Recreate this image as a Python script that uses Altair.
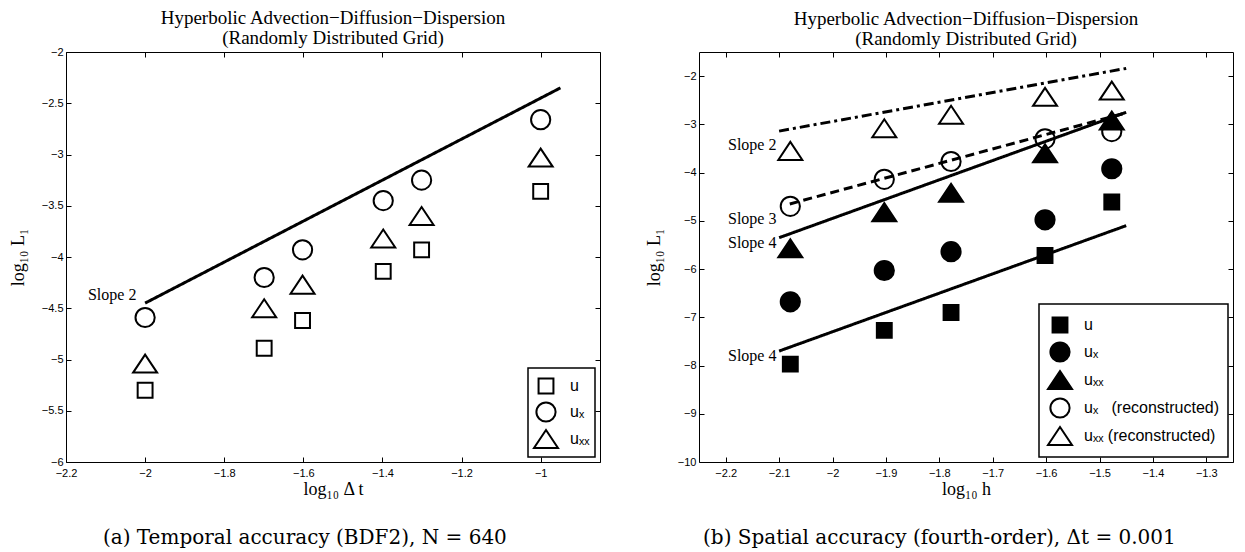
import altair as alt
import pandas as pd

SERIF = "Liberation Serif"
SANS = "Liberation Sans"
CAPFONT = "DejaVu Serif"

# ---------------- Panel (a): temporal accuracy ----------------
a_x = [-2.0, -1.699, -1.602, -1.398, -1.301, -1.0]
a_u = [-5.30, -4.89, -4.62, -4.14, -3.93, -3.36]
a_ux = [-4.59, -4.20, -3.93, -3.45, -3.25, -2.66]
a_uxx = [-5.04, -4.50, -4.27, -3.82, -3.60, -3.03]
a_names = ["u", "uₓ", "uₓₓ"]

a_slope_x = [-2.0, -0.95]
a_slope_y = [-4.45, -2.35]
a_text = ["Slope 2"]
a_text_x = [-2.022]
a_text_y = [-4.37]

a_xticks = [-2.2, -2.0, -1.8, -1.6, -1.4, -1.2, -1.0]
a_yticks = [-6, -5.5, -5, -4.5, -4, -3.5, -3, -2.5, -2]
a_xdomain = [-2.2, -0.85]
a_ydomain = [-6, -2]

# ---------------- Panel (b): spatial accuracy ----------------
b_x = [-2.079, -1.903, -1.778, -1.602, -1.477]
b_u = [-7.97, -7.27, -6.90, -5.72, -4.61]
b_ux = [-6.68, -6.03, -5.64, -4.98, -3.92]
b_uxx = [-5.57, -4.82, -4.42, -3.60, -2.92]
b_ux_rec = [-4.70, -4.14, -3.77, -3.30, -3.15]
b_uxx_rec = [-3.55, -3.08, -2.80, -2.43, -2.30]
b_names = ["u", "uₓ", "uₓₓ", "uₓ\u00a0\u00a0 (reconstructed)", "uₓₓ (reconstructed)"]

b_line_names = ["slope2", "slope3", "slope4a", "slope4b"]
b_line_style = ["dashdot", "dash", "solid", "solid"]
b_line_x0 = [-2.10, -2.08, -2.10, -2.10]
b_line_x1 = [-1.45, -1.45, -1.45, -1.45]
b_line_y0 = [-3.14, -4.65, -5.35, -7.70]
b_line_y1 = [-1.84, -2.76, -2.75, -5.10]
b_text = ["Slope 2", "Slope 3", "Slope 4", "Slope 4"]
b_text_x = [-2.105, -2.105, -2.105, -2.105]
b_text_y = [-3.42, -4.97, -5.45, -7.81]

b_xticks = [-2.2, -2.1, -2.0, -1.9, -1.8, -1.7, -1.6, -1.5, -1.4, -1.3]
b_yticks = [-10, -9, -8, -7, -6, -5, -4, -3, -2]
b_xdomain = [-2.25, -1.25]
b_ydomain = [-10, -1.5]

header = ["Hyperbolic Advection\u2212Diffusion\u2212Dispersion", "(Randomly Distributed Grid)"]
cap_a = "(a) Temporal accuracy (BDF2), N = 640"
cap_b = "(b) Spatial accuracy (fourth-order), \u0394t = 0.001"

# marker shapes (custom paths in [-1,1] box)
SQ = "M-0.62,-0.62L0.62,-0.62L0.62,0.62L-0.62,0.62Z"
CI = "M0.8,0A0.8,0.8,0,1,1,-0.8,0A0.8,0.8,0,1,1,0.8,0Z"
TR = "M0,-0.75L1,0.75L-1,0.75Z"
MSIZE = 576


def axis_kw(**kw):
    base = dict(domain=False, ticks=True, tickSize=5, tickWidth=1, tickColor="black",
                offset=-5, grid=False, labelFont=SANS, labelFontSize=11, labelColor="black",
                labelOverlap=False, labelFlush=False, titleFont=SERIF, titleFontSize=18,
                titleFontWeight="normal", titleColor="black")
    base.update(kw)
    return alt.Axis(**base)


def panel(pdf, ldf, tdf, xdom, ydom, xticks, yticks, yfmt, xtitle, names, shapes, fills,
          rowpad, legpad, width, height, caption, title_offset):
    xs = alt.Scale(domain=xdom, nice=False, zero=False)
    ys = alt.Scale(domain=ydom, nice=False, zero=False)
    lines = alt.Chart(ldf).mark_line(color="black", strokeWidth=3, strokeCap="butt").encode(
        x=alt.X("x:Q", scale=xs, axis=axis_kw(orient="top", values=xticks, labels=False, title=None)),
        y=alt.Y("y:Q", scale=ys, axis=axis_kw(orient="right", values=yticks, labels=False, title=None)),
        detail="line:N",
        strokeDash=alt.StrokeDash("style:N", scale=alt.Scale(domain=["solid", "dash", "dashdot"],
                                                             range=[[1, 0], [9, 5], [10, 4, 3, 4]]),
                                  legend=None),
    )
    leg = alt.Legend(title=None, orient="bottom-right", offset=5, padding=legpad, rowPadding=rowpad,
                     symbolSize=MSIZE, symbolStrokeWidth=2,
                     symbolOpacity=1, labelFont=SANS, labelFontSize=16, labelColor="black",
                     labelOffset=11, strokeColor="black", fillColor="white", labelLimit=300)
    pts = alt.Chart(pdf).mark_point(filled=False, size=MSIZE, strokeWidth=2, opacity=1).encode(
        x=alt.X("x:Q", scale=xs, axis=axis_kw(orient="bottom", values=xticks, format=".1~f",
                                               labelPadding=5, title=xtitle, titlePadding=2)),
        y=alt.Y("y:Q", scale=ys, axis=axis_kw(orient="left", values=yticks, format=yfmt,
                                               labelPadding=3, title="log\u2081\u2080 L\u2081",
                                               titlePadding=14)),
        shape=alt.Shape("series:N", scale=alt.Scale(domain=names, range=shapes), legend=leg),
        fill=alt.Fill("series:N", scale=alt.Scale(domain=names, range=fills), legend=leg),
        stroke=alt.Stroke("series:N", scale=alt.Scale(domain=names, range=["black"] * len(names)),
                          legend=leg),
    )
    txt = alt.Chart(tdf).mark_text(align="right", baseline="middle", font=SERIF, fontSize=16,
                                   color="black").encode(
        x=alt.X("x:Q", scale=xs, axis=None),
        y=alt.Y("y:Q", scale=ys, axis=None),
        text="label:N",
    )
    layer = alt.layer(lines, pts, txt).resolve_axis(x="independent", y="independent").properties(
        width=width, height=height,
        title=alt.TitleParams(header, font=SERIF, fontSize=19, lineHeight=20, fontWeight="normal",
                              color="black", anchor="middle", frame="group", offset=title_offset),
    )
    return alt.vconcat(layer, title=alt.TitleParams(caption, orient="bottom", font=CAPFONT, fontSize=20,
                                                    fontWeight="normal", color="black",
                                                    anchor="middle", frame="bounds", offset=29)
                       ).resolve_legend(shape="independent", fill="independent", stroke="independent")


pa = pd.DataFrame({
    "x": a_x * 3,
    "y": a_u + a_ux + a_uxx,
    "series": [n for n in a_names for _ in a_x],
})
la = pd.DataFrame({"x": a_slope_x, "y": a_slope_y, "line": ["s2", "s2"], "style": ["solid", "solid"]})
ta = pd.DataFrame({"x": a_text_x, "y": a_text_y, "label": a_text})

pb = pd.DataFrame({
    "x": b_x * 5,
    "y": b_u + b_ux + b_uxx + b_ux_rec + b_uxx_rec,
    "series": [n for n in b_names for _ in b_x],
})
lb_rows = []
for i, nm in enumerate(b_line_names):
    lb_rows.append({"x": b_line_x0[i], "y": b_line_y0[i], "line": nm, "style": b_line_style[i]})
    lb_rows.append({"x": b_line_x1[i], "y": b_line_y1[i], "line": nm, "style": b_line_style[i]})
lb = pd.DataFrame(lb_rows)
tb = pd.DataFrame({"x": b_text_x, "y": b_text_y, "label": b_text})

panel_a = panel(pa, la, ta, a_xdomain, a_ydomain, a_xticks, a_yticks, ".1~f", "log\u2081\u2080 \u0394 t",
                a_names, [SQ, CI, TR], ["transparent", "transparent", "transparent"], 0, 5,
                534, 410, cap_a, -2)
panel_b = panel(pb, lb, tb, b_xdomain, b_ydomain, b_xticks, b_yticks, "d", "log\u2081\u2080 h",
                b_names, [SQ, CI, TR, CI, TR], ["black", "black", "black", "transparent", "transparent"],
                1, 8, 534, 410, cap_b, 3)

chart = alt.hconcat(panel_a, panel_b, spacing=43).resolve_scale(
    x="independent", y="independent", shape="independent", fill="independent",
    stroke="independent", strokeDash="independent"
).resolve_legend(shape="independent", fill="independent", stroke="independent").configure_view(
    stroke="black", strokeWidth=1
).configure_legend(strokeWidth=1.5, labelFontSize=16).properties(
    padding={"left": 0, "top": 0, "right": 0, "bottom": 0})

chart.save("out.html", embed_options={"renderer": "svg", "actions": False})
